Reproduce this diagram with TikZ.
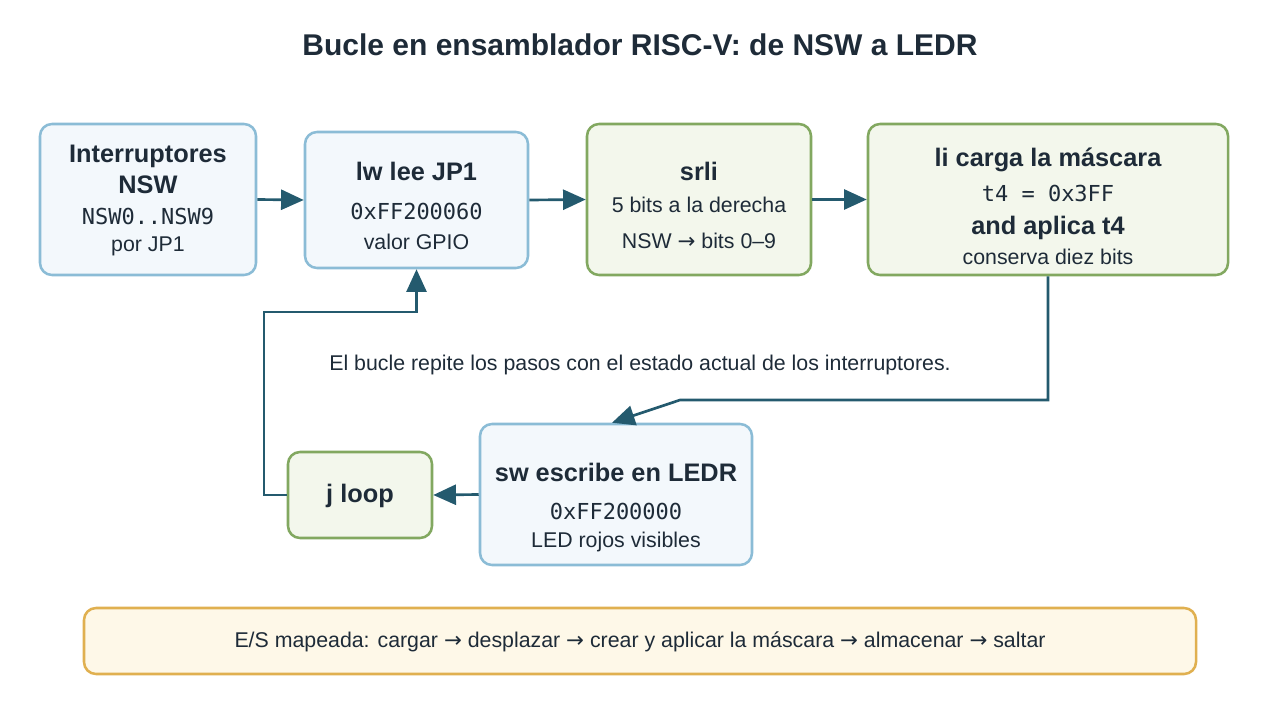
\documentclass[tikz,border=0pt]{standalone}
\usepackage{fontspec}
\setmainfont{Liberation Sans}
\setmonofont{DejaVu Sans Mono}
\newfontfamily\arrfont{DejaVu Sans}
\newcommand{\ra}{{\arrfont\char"2192}}
\usetikzlibrary{arrows.meta}
\definecolor{bfill}{HTML}{F3F8FC}\definecolor{bline}{HTML}{8BBCD6}
\definecolor{gfill}{HTML}{F3F7EC}\definecolor{gline}{HTML}{82A860}
\definecolor{yfill}{HTML}{FEF8E8}\definecolor{yline}{HTML}{E0B050}
\definecolor{arr}{HTML}{245A6E}\definecolor{txt}{HTML}{1E2B38}
\begin{document}
\begin{tikzpicture}[x=0.75pt,y=-0.75pt,
 box/.style n args={4}{draw=#3,fill=#4,line width=1.9pt,rounded corners=9pt,minimum width=#1*0.75pt,minimum height=#2*0.75pt,inner sep=0pt},
 bt/.style={text=txt,font=\fontsize{19}{22}\selectfont\bfseries},
 nt/.style={text=txt,font=\fontsize{16}{19}\selectfont},
 mt/.style={text=txt,font=\fontsize{16.5}{19}\ttfamily},
 con/.style={draw=arr,line width=2pt,-{Triangle[length=17pt,width=15pt]}}]
\useasboundingbox (0,0) rectangle (1280,720);
\node[text=txt,font=\fontsize{22.5}{26}\selectfont\bfseries] (title) at (640,45) {Bucle en ensamblador RISC-V: de NSW a LEDR};
\node[box={216}{151}{bline}{bfill}] (b1) at (148,199.5) {};
\node[box={223}{136}{bline}{bfill}] (b2) at (416.5,200) {};
\node[box={224}{151}{gline}{gfill}] (b3) at (699,199.5) {};
\node[box={360}{151}{gline}{gfill}] (b4) at (1048,199.5) {};
\node[box={272}{141}{bline}{bfill}] (sw) at (616,494.5) {};
\node[box={144}{86}{gline}{gfill}] (j) at (360,495) {};
\node[box={1112}{66}{yline}{yfill}] (bot) at (640,641) {};
\node[bt] (t1a) at (148,156) {Interruptores};
\node[bt] (t1b) at (148,185) {NSW};
\node[mt] (t1c) at (148,216) {NSW0..NSW9};
\node[nt] (t1d) at (148,246) {por JP1};
\node[bt] (t2a) at (416.5,171) {lw lee JP1};
\node[mt] (t2b) at (416.5,211) {0xFF200060};
\node[nt] (t2c) at (416.5,242) {valor GPIO};
\node[bt] (t3a) at (699,171) {srli};
\node[nt] (t3b) at (699,205) {5 bits a la derecha};
\node[nt] (t3c) at (699,241) {NSW \ra{} bits 0–9};
\node[bt] (t4a) at (1048,160) {li carga la máscara};
\node[mt] (t4b) at (1048,193) {t4 = 0x3FF};
\node[bt] (t4c) at (1048,228) {and aplica t4};
\node[nt] (t4d) at (1048,257) {conserva diez bits};
\node[bt] (t5a) at (616,472) {sw escribe en LEDR};
\node[mt] (t5b) at (616,511) {0xFF200000};
\node[nt] (t5c) at (616,542) {LED rojos visibles};
\node[bt] (t6) at (360,496) {j loop};
\node[nt] (mid) at (640,365) {El bucle repite los pasos con el estado actual de los interruptores.};
\node[nt] (bt) at (640,642) {E/S mapeada: cargar \ra{} desplazar \ra{} crear y aplicar la máscara \ra{} almacenar \ra{} saltar};
\draw[con] (b1.east) -- (b2.west);
\draw[con] (b2.east) -- (b3.west);
\draw[con] (b3.east) -- (b4.west);
\draw[con] (b4.south) -- (1048,400) -- (680,400) -- ([xshift=-3pt]sw.north);
\draw[con] (sw.west) -- (j.east);
\draw[con] (j.west) -- (264,495) -- (264,312) -- (416.5,312) -- (b2.south);
\end{tikzpicture}
\end{document}
